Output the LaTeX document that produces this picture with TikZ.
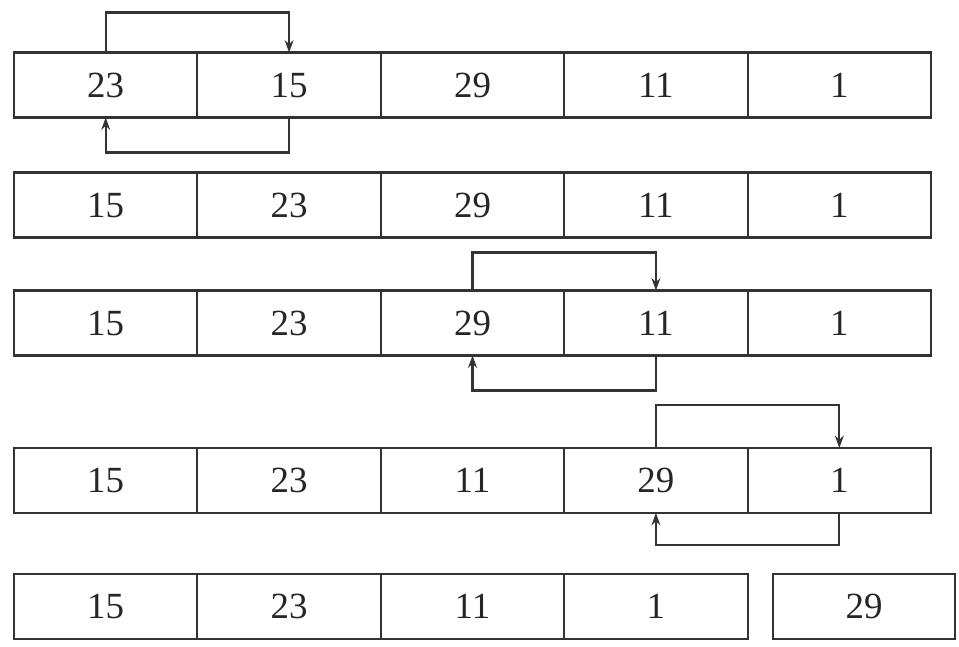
\documentclass[tikz,border=0pt]{standalone}
\usepackage{fontspec}
\setmainfont{Liberation Serif}
\usetikzlibrary{arrows.meta}

\tikzset{
  cell/.style={draw=black!80, line width=1.2pt, rectangle, minimum width=3.668cm,
    minimum height=1.3cm, inner sep=0pt, outer sep=0pt, text=black!85,
    font=\fontsize{21}{24}\selectfont},
  swap/.style={draw=black!80, line width=1.2pt, -{Stealth[length=7pt,width=5pt]}}
}

\begin{document}
\begin{tikzpicture}

\useasboundingbox (0,0) rectangle (19.18,12.92);

% Etape 1
\begin{scope}[yshift=11.22cm]
\node[cell] (r1c1) at (2.114,0) {23};
\node[cell] (r1c2) at (5.782,0) {15};
\node[cell] (r1c3) at (9.45,0) {29};
\node[cell] (r1c4) at (13.118,0) {11};
\node[cell] (r1c5) at (16.786,0) {1};
\end{scope}

\draw[swap] (r1c1.north) -- ++(0,0.8) -| (r1c2.north);
\draw[swap] (r1c2.south) -- ++(0,-0.7) -| (r1c1.south);

% Etape 2
\begin{scope}[yshift=8.82cm]
\node[cell] (r2c1) at (2.114,0) {15};
\node[cell] (r2c2) at (5.782,0) {23};
\node[cell] (r2c3) at (9.45,0) {29};
\node[cell] (r2c4) at (13.118,0) {11};
\node[cell] (r2c5) at (16.786,0) {1};
\end{scope}

% Etape 3
\begin{scope}[yshift=6.46cm]
\node[cell] (r3c1) at (2.114,0) {15};
\node[cell] (r3c2) at (5.782,0) {23};
\node[cell] (r3c3) at (9.45,0) {29};
\node[cell] (r3c4) at (13.118,0) {11};
\node[cell] (r3c5) at (16.786,0) {1};
\end{scope}

\draw[swap] (r3c3.north) -- ++(0,0.76) -| (r3c4.north);
\draw[swap] (r3c4.south) -- ++(0,-0.7) -| (r3c3.south);

% Etape 4
\begin{scope}[yshift=3.31cm]
\node[cell] (r4c1) at (2.114,0) {15};
\node[cell] (r4c2) at (5.782,0) {23};
\node[cell] (r4c3) at (9.45,0) {11};
\node[cell] (r4c4) at (13.118,0) {29};
\node[cell] (r4c5) at (16.786,0) {1};
\end{scope}

\draw[swap] (r4c4.north) -- ++(0,0.86) -| (r4c5.north);
\draw[swap] (r4c5.south) -- ++(0,-0.64) -| (r4c4.south);

% Resultat
\begin{scope}[yshift=0.79cm]
\node[cell] (r5c1) at (2.114,0) {15};
\node[cell] (r5c2) at (5.782,0) {23};
\node[cell] (r5c3) at (9.45,0) {11};
\node[cell] (r5c4) at (13.118,0) {1};
\node[cell, minimum width=3.64cm] (r5c5) at (17.28,0) {29};
\end{scope}

\end{tikzpicture}
\end{document}
